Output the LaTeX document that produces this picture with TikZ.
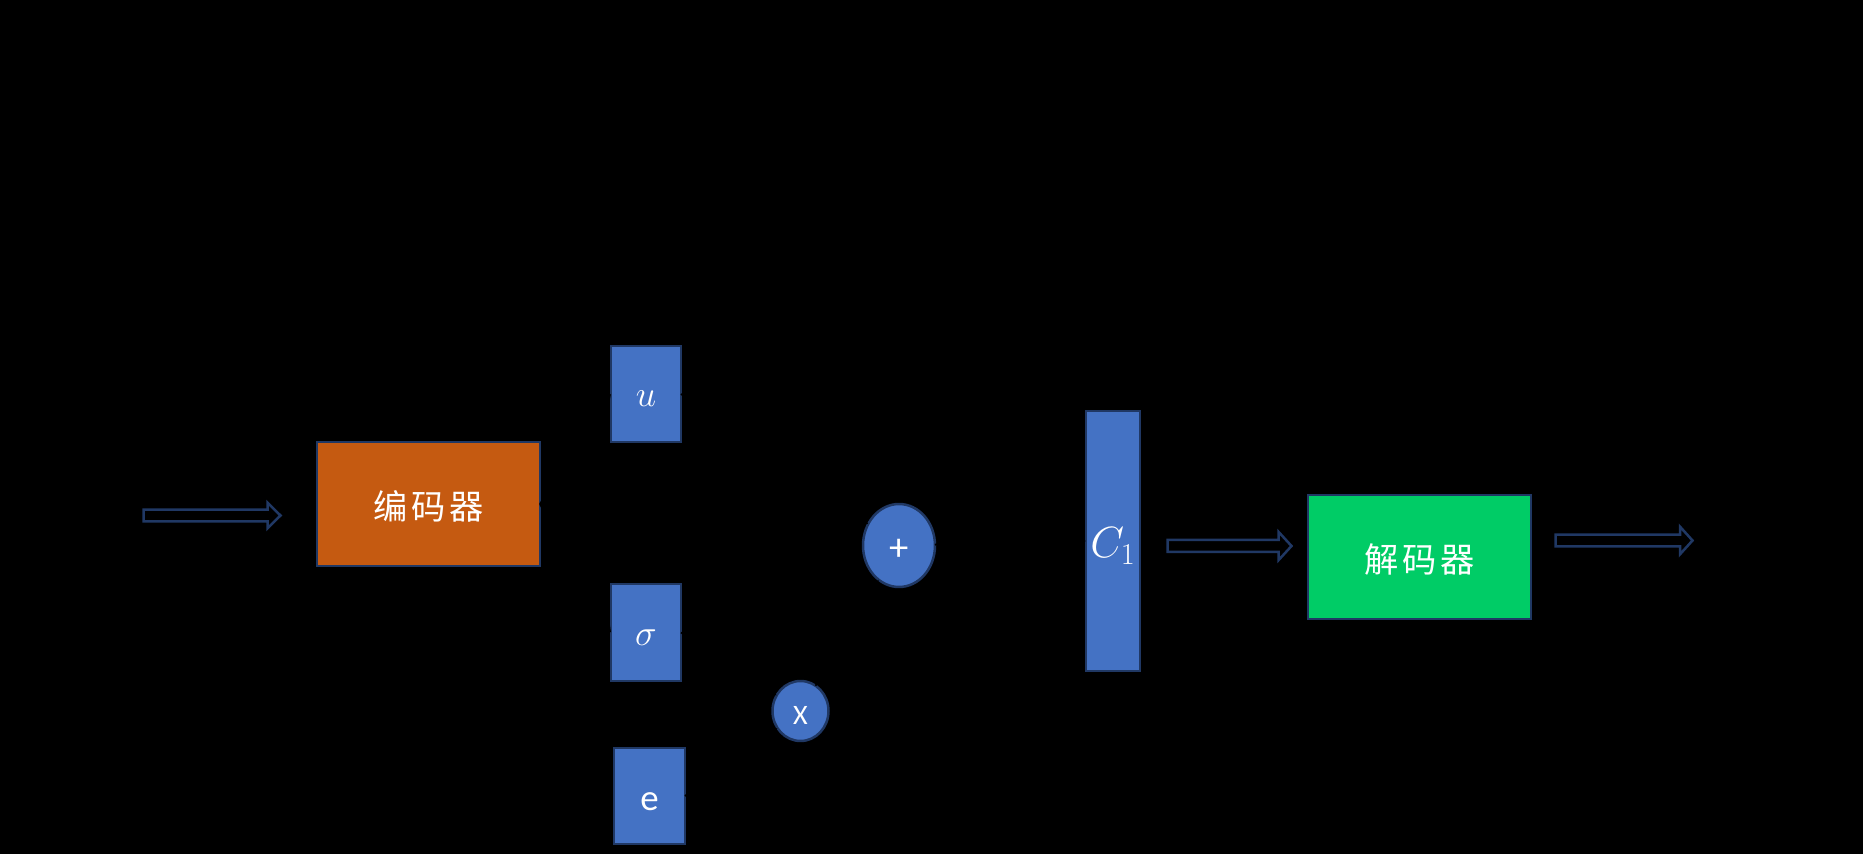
\documentclass[tikz,border=0pt]{standalone}
\usepackage{fontspec}
\newfontfamily\cjkfont{Noto Sans CJK SC}
\newfontfamily\carlfont{Carlito}
\usetikzlibrary{shapes.geometric,arrows.meta}
\definecolor{navy}{RGB}{32,56,100}
\definecolor{boxblue}{RGB}{68,114,196}
\definecolor{encorange}{RGB}{197,90,17}
\definecolor{decgreen}{RGB}{0,204,102}
\tikzset{
  base/.style={draw=navy, line width=0.05cm, inner sep=0pt, outer sep=0pt, text=white},
  bigbox/.style={base, rectangle, minimum width=4.46cm, minimum height=2.48cm},
  varbox/.style={base, rectangle, fill=boxblue},
  opnode/.style={base, ellipse, fill=boxblue},
  hollow/.style={draw=navy, line width=0.05cm, fill=black, line join=miter},
  hidden/.style={draw=black, line width=1pt, -{Stealth}}
}
% #1 left x, #2 tip x, #3 head base x, #4 centre y, #5 half shaft, #6 half head
\newcommand\blockarrow[6]{%
  \draw[hollow] (#1,#4-#5) -- (#3,#4-#5) -- (#3,#4-#6) -- (#2,#4) -- (#3,#4+#6) -- (#3,#4+#5) -- (#1,#4+#5) -- cycle;}
\newcommand\dropby[2]{\raisebox{-#1}[\height][\depth]{#2}}
\begin{document}
\begin{tikzpicture}[x=0.02cm, y=-0.02cm]
  \fill[black] (0,0) rectangle (1863,854);
  \useasboundingbox (0,0) rectangle (1863,854);
  % input arrow
  \blockarrow{143.5}{280.5}{267.5}{515.5}{5.8}{12.8}
  % encoder
  \node[bigbox, fill=encorange, font=\cjkfont\fontsize{19.5}{22}\selectfont] (enc) at (428.5,504) {\dropby{1.3pt}{编\kern2pt 码\kern2pt 器}};
  % latent boxes
  \node[varbox, minimum width=1.4cm, minimum height=1.92cm, font=\fontsize{22}{26}\selectfont] (u) at (646,394) {\dropby{2.7pt}{$u$}};
  \node[varbox, minimum width=1.4cm, minimum height=1.94cm, font=\fontsize{22}{26}\selectfont] (sig) at (646,632.5) {\dropby{2.7pt}{$\sigma$}};
  \node[varbox, minimum width=1.42cm, minimum height=1.92cm, font=\carlfont\fontsize{21}{25}\selectfont] (e) at (649.5,796) {\dropby{3.2pt}{e}};
  % operators
  \node[opnode, minimum width=1.12cm, minimum height=1.2cm, font=\carlfont\fontsize{16}{19}\selectfont] (mul) at (800.5,711) {\dropby{2.5pt}{X}};
  \node[opnode, minimum width=1.44cm, minimum height=1.66cm, font=\carlfont\fontsize{22}{26}\selectfont] (plus) at (899,545.5) {\dropby{2.5pt}{+}};
  % latent code
  \node[varbox, minimum width=1.08cm, minimum height=5.2cm, font=\fontsize{23.5}{28}\selectfont] (c1) at (1113,541) {\dropby{3pt}{$C_1$}};
  % arrow to decoder
  \blockarrow{1167.5}{1291.5}{1278.5}{546}{6}{14.2}
  % decoder
  \node[bigbox, fill=decgreen, font=\cjkfont\fontsize{19.5}{22}\selectfont] (dec) at (1419.5,557) {\dropby{1.3pt}{解\kern2pt 码\kern2pt 器}};
  % output arrow
  \blockarrow{1555.5}{1692.5}{1680}{540.5}{5.8}{13.8}
  % black connectors (invisible on the black ground, as in the reference)
  \draw[hidden] (enc.east) -- (u.west);
  \draw[hidden] (enc.east) -- (sig.west);
  \draw[hidden] (u.east) -- (plus);
  \draw[hidden] (sig.east) -- (mul);
  \draw[hidden] (e.east) -- (mul);
  \draw[hidden] (mul) -- (plus);
  \draw[hidden] (plus) -- (c1.west);
\end{tikzpicture}
\end{document}
